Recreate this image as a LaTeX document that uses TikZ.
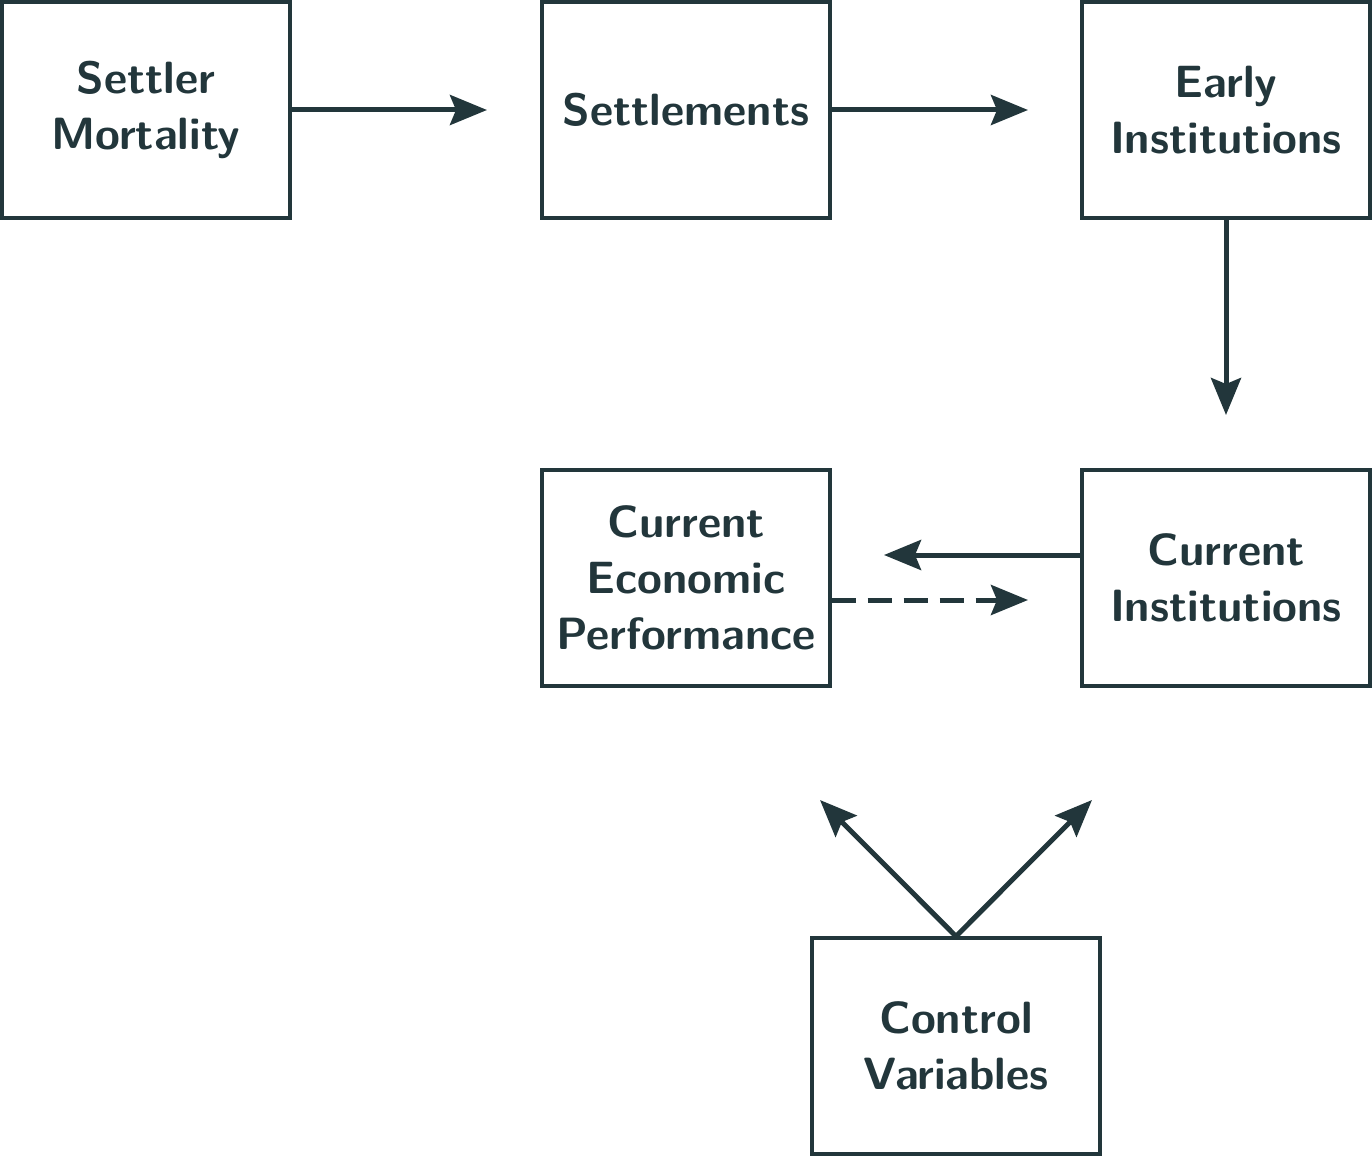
\documentclass[tikz,border=0pt]{standalone}
\usetikzlibrary{arrows.meta}
\definecolor{ink}{HTML}{22363B}
\begin{document}
\begin{tikzpicture}[x=0.5pt,y=-0.5pt,
  box/.style={draw=ink,line width=1.7pt,minimum width=144pt,minimum height=108pt,inner sep=0pt,align=center,text=ink,font=\sffamily\bfseries\fontsize{22.6}{28}\selectfont},
  conn/.style={draw=ink,line width=2.5pt,-{Stealth[length=18.5pt,width=15pt,inset=3pt]}}]
\useasboundingbox (0,0) rectangle (1372,1156);
\node[box] (sm) at (146,110) {Settler\\Mortality};
\node[box] (st) at (686,110) {Settlements};
\node[box] (ei) at (1226,110) {Early\\Institutions};
\node[box] (cep) at (686,578) {Current\\Economic\\Performance};
\node[box] (ci) at (1226,578) {Current\\Institutions};
\node[box] (cv) at (956,1046) {Control\\Variables};
\coordinate (e1) at (487,110);
\coordinate (e2) at (1028,110);
\coordinate (e3) at (1226,415);
\coordinate (e4) at (884,555);
\coordinate (e5) at (1028,600);
\coordinate (e6) at (820,800);
\coordinate (e7) at (1092,800);
\draw[conn] (sm.east) -- (e1);
\draw[conn] (st.east) -- (e2);
\draw[conn] (ei.south) -- (e3);
\draw[conn] (ci.west |- e4) -- (e4);
\draw[conn,dash pattern=on 12pt off 6pt] (cep.east |- e5) -- (e5);
\draw[conn] (cv.north) -- (e6);
\draw[conn] (cv.north) -- (e7);
\end{tikzpicture}
\end{document}
